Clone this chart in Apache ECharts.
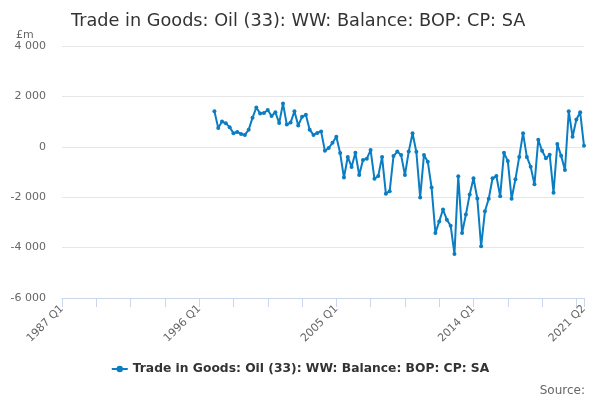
<!DOCTYPE html>
<html>
<head>
<meta charset="utf-8">
<title>Trade in Goods: Oil</title>
<script src="https://cdn.jsdelivr.net/npm/echarts@6/dist/echarts.min.js"></script>
<style>
  html,body{margin:0;padding:0;background:#fff;}
  #chart{width:600px;height:400px;}
</style>
</head>
<body>
<div id="chart"></div>
<script>
// quarters 1987 Q1 .. 2021 Q2
var firstYear = 1987;
var lastYear = 2021;
var lastQuarter = 2;
var yTicks = [-6000, -4000, -2000, 0, 2000, 4000];

var quarters = [];
for (var y = firstYear; y <= lastYear; y++) {
  for (var q = 1; q <= 4; q++) {
    if (y === lastYear && q > lastQuarter) break;
    quarters.push(y + ' Q' + q);
  }
}

// series starts 1997 Q1 (£m)
var seriesStart = '1997 Q1';
var oilBalance = [
  1410, 750, 1000, 930, 780, 540, 590, 510, 470, 680,
  1150, 1560, 1320, 1340, 1460, 1220, 1370, 940, 1720, 880,
  960, 1410, 850, 1190, 1270, 680, 470, 550, 610, -160,
  -50, 160, 400, -250, -1220, -400, -800, -240, -1120, -520,
  -470, -130, -1270, -1160, -400, -1860, -1760, -370, -190, -330,
  -1120, -190, 540, -200, -2010, -330, -590, -1620, -3420, -2960,
  -2490, -2890, -3130, -4250, -1170, -3420, -2690, -1890, -1250, -2050,
  -3950, -2560, -2060, -1250, -1160, -1960, -240, -560, -2060, -1290,
  -400, 540, -400, -790, -1490, 280, -160, -450, -320, -1820,
  110, -360, -920, 1410, 400, 1080, 1370, 40
];

var startIdx = quarters.indexOf(seriesStart);
var lineData = new Array(startIdx).fill(null).concat(oilBalance);
var lastIdx = quarters.length - 1;

var chart = echarts.init(document.getElementById('chart'));
var fontFam = 'DejaVu Sans';
var lineColor = '#0b7dc2';

var option = {
  animation: false,
  textStyle: {fontFamily: fontFam},
  title: [
    {
      text: 'Trade in Goods: Oil (33): WW: Balance: BOP: CP: SA',
      left: 66, top: 7,
      textStyle: {fontSize: 17.7, fontWeight: 'normal', color: '#333', fontFamily: fontFam}
    },
    {
      text: '£m',
      left: 11, top: 25,
      textStyle: {fontSize: 11, fontWeight: 'normal', color: '#666', fontFamily: fontFam}
    },
    {
      text: 'Source:',
      right: 10, top: 380,
      textStyle: {fontSize: 12, fontWeight: 'normal', color: '#666', fontFamily: fontFam}
    }
  ],
  legend: {
    bottom: 20,
    left: 'center',
    itemWidth: 16,
    itemHeight: 8,
    textStyle: {fontSize: 12.3, fontWeight: 'bold', color: '#333', fontFamily: fontFam},
    data: ['Trade in Goods: Oil (33): WW: Balance: BOP: CP: SA']
  },
  grid: {left: 62, right: 16, top: 46, bottom: 102},
  xAxis: {
    type: 'category',
    data: quarters,
    boundaryGap: false,
    axisLine: {onZero: false, lineStyle: {color: '#ccd6eb'}},
    axisTick: {
      length: 9,
      lineStyle: {color: '#ccd6eb'},
      interval: function (i) { return i % 9 === 0 || i === lastIdx; }
    },
    axisLabel: {
      rotate: 45,
      color: '#666',
      fontSize: 11,
      margin: 9,
      interval: function (i) { return i % 36 === 0 || i === lastIdx; }
    },
    splitLine: {show: false}
  },
  yAxis: {
    type: 'value',
    min: yTicks[0],
    max: yTicks[yTicks.length - 1],
    interval: 2000,
    axisLine: {show: false},
    axisTick: {show: false},
    axisLabel: {
      color: '#666',
      fontSize: 11,
      margin: 16,
      formatter: function (v) {
        var s = Math.abs(v).toString().replace(/\B(?=(\d{3})+(?!\d))/g, ' ');
        return (v < 0 ? '-' : '') + s;
      }
    },
    splitLine: {lineStyle: {color: '#e6e6e6'}}
  },
  series: [
    {
      name: 'Trade in Goods: Oil (33): WW: Balance: BOP: CP: SA',
      type: 'line',
      data: lineData,
      symbol: 'circle',
      symbolSize: 4,
      showAllSymbol: true,
      lineStyle: {width: 2, color: lineColor},
      itemStyle: {color: lineColor}
    }
  ]
};

chart.setOption(option);
</script>
</body>
</html>
